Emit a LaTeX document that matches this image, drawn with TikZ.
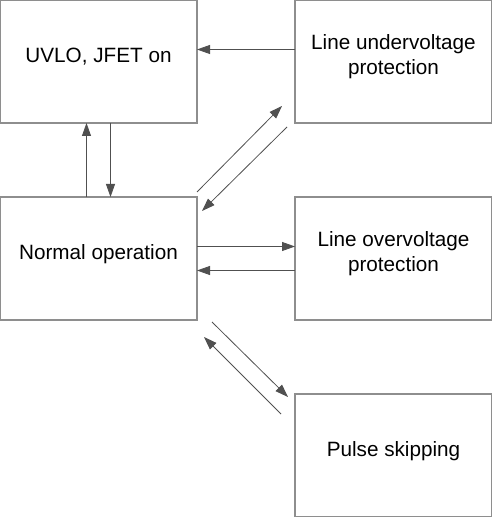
\documentclass[tikz,border=0pt]{standalone}
\usepackage{fontspec}
\setmainfont{Liberation Sans}
\usepackage{tikz}
\usetikzlibrary{arrows.meta}
\usetikzlibrary{shapes}

\definecolor{boxgray}{HTML}{8E8E8E}
\definecolor{arrowgray}{HTML}{505050}

\tikzstyle{block}=[
   rectangle,
   draw=boxgray,
   line width=1.2pt,
   inner sep=0pt,
   outer sep=0pt,
   align=center,
   minimum width=197pt,
   minimum height=123pt,
   text depth=13pt,
   font=\fontsize{20.7}{25}\selectfont
]

\begin{document}
\begin{tikzpicture}[->,>={Triangle[length=13pt,width=9pt]},node distance=197pt,
  line width=0.8pt,draw=arrowgray,every edge/.style={draw=arrowgray}]

  \useasboundingbox (0,0) rectangle (492pt,517pt);

  \node[block]   (uvlo) at (98.5pt,455.5pt)         {UVLO, JFET on};
  \node[block]   (luv)  [right of=uvlo, xshift=98pt] {Line undervoltage\\protection};
  \node[block]   (norm) [below of=uvlo]               {Normal operation};
  \node[block]   (lov)  [right of=norm, xshift=98pt]  {Line overvoltage\\protection};
  \node[block]   (ps)   [below of=lov]                {Pulse skipping};

  \path ([yshift=12pt]luv.west)    edge ([yshift=12pt]uvlo.east)
        ([xshift=-12pt]norm.north) edge ([xshift=-12pt]uvlo.south)
        ([xshift=12pt]uvlo.south)  edge ([xshift=12pt]norm.north);

  \path ([yshift=12pt]norm.east)   edge ([yshift=12pt]lov.west)
        ([yshift=-12pt]lov.west)   edge ([yshift=-12pt]norm.east);

  \path ([shift={(0pt,5pt)}]norm.north east)  edge ([shift={(-13pt,17pt)}]luv.south west)
        ([shift={(-8pt,-4pt)}]luv.south west) edge ([shift={(5pt,-14pt)}]norm.north east);

  \path ([shift={(15pt,-2pt)}]norm.south east) edge ([shift={(-7pt,-3pt)}]ps.north west)
        ([shift={(-14pt,-20pt)}]ps.north west) edge ([shift={(7pt,-17pt)}]norm.south east);

\end{tikzpicture}
\end{document}
